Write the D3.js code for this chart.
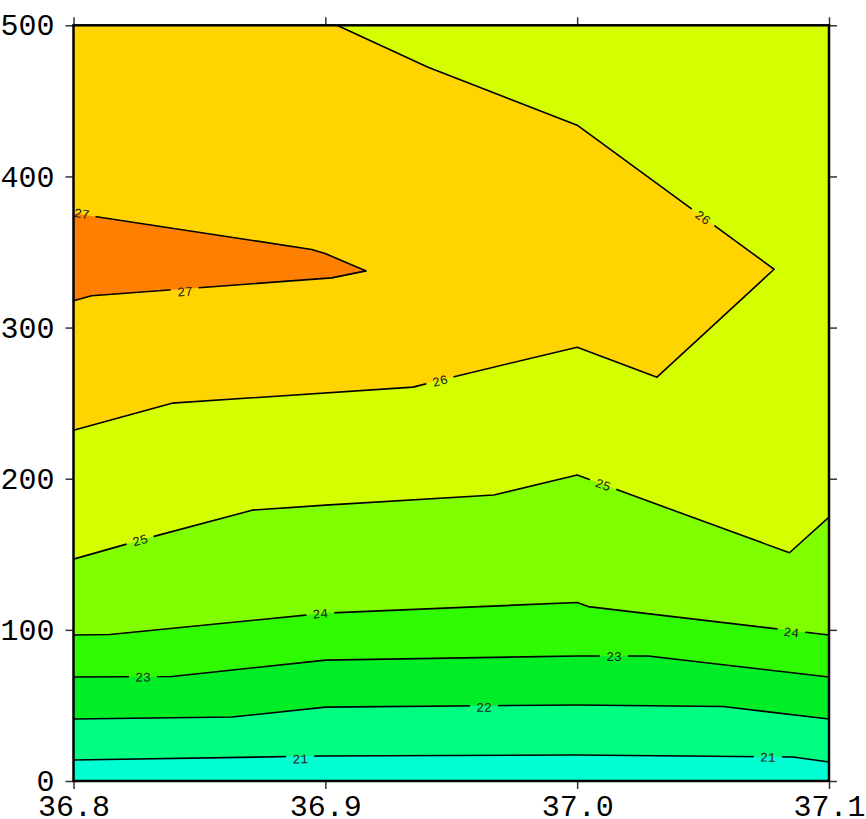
<!DOCTYPE html>
<html><head><meta charset="utf-8">
<script src="https://cdn.jsdelivr.net/npm/d3@7/dist/d3.min.js"></script>
<style>body{margin:0;background:#fff}svg{display:block}</style>
</head><body>
<svg id="chart" width="866" height="819"></svg>
<script>
// ---- data (longitude, depth-value) ----
const xTicks = [36.8, 36.9, 37.0, 37.1];
const yTicks = [0, 100, 200, 300, 400, 500];
const levels = [21, 22, 23, 24, 25, 26, 27];
const bandColors = ["#00FFD2", "#00FF80", "#00EE26", "#30FA00", "#80FF00", "#D4FF00", "#FFD400", "#FF8000"];

const line21 = [[36.8, 13.9], [36.899, 16.5], [37.0, 17.2], [37.0857, 15.9], [37.1, 12.6]];
const line22 = [[36.8, 41.0], [36.8629, 42.3], [36.9001, 48.9], [37.0, 50.3], [37.058, 49.3], [37.1, 41.0]];
const line23 = [[36.8, 68.8], [36.8391, 69.1], [36.9001, 80.0], [37.0, 82.7], [37.0282, 82.7], [37.1, 68.8]];
const line24 = [[36.8, 96.6], [36.8145, 96.9], [36.9001, 111.1], [37.0, 118.1], [37.0044, 115.4], [37.1, 96.6]];
const line25 = [[36.8, 146.8], [36.8316, 161.7], [36.8709, 179.2], [36.9001, 182.5], [36.9669, 189.2], [37.0, 202.4], [37.0843, 151.0], [37.1, 174.6]];
const line26 = [[36.8, 232.1], [36.8391, 250.0], [36.9348, 260.6], [36.9503, 267.2], [37.0, 287.0], [37.0317, 267.2], [37.0782, 338.6], [37.0, 433.9], [36.9408, 472.2], [36.9046, 500]];
const line27 = [[36.8, 375.7], [36.8946, 351.7], [36.8999, 349.0], [36.9162, 337.5], [36.9025, 332.9], [36.8072, 321.1], [36.8, 317.7]];
const contourLines = [line21, line22, line23, line24, line25, line26, line27];

// label placements: [level index, x, y]
const labels = [
  [0, 36.8900, 14.8], [0, 37.0757, 15.9],
  [1, 36.9630, 48.9],
  [2, 36.8276, 69.0], [2, 37.0146, 82.7],
  [3, 36.8980, 111.0], [3, 37.0850, 98.5],
  [4, 36.8264, 159.5], [4, 37.0103, 196.2],
  [5, 36.9455, 265.0], [5, 37.0500, 373.0],
  [6, 36.8033, 375.6], [6, 36.8442, 324.0]
];

// ---- layout ----
const L = 73.5, R = 829, T = 25.3, B = 781;
const x = d3.scaleLinear().domain([36.8, 37.1]).range([L, R]);
const y = d3.scaleLinear().domain([0, 500]).range([B, T]);
const svg = d3.select("#chart");
const line = d3.line().x(d => x(d[0])).y(d => y(d[1]));

const [x0, x1] = x.domain(), [y0, y1] = y.domain();
// background band (< 21)
svg.append("rect").attr("x", L).attr("y", T).attr("width", R - L).attr("height", B - T).attr("fill", bandColors[0]);
// region above each level
const regions = [
  line21.concat([[x1, y1], [x0, y1]]),
  line22.concat([[x1, y1], [x0, y1]]),
  line23.concat([[x1, y1], [x0, y1]]),
  line24.concat([[x1, y1], [x0, y1]]),
  line25.concat([[x1, y1], [x0, y1]]),
  line26.concat([[x0, y1]]),
  line27
];
svg.append("g").selectAll("path").data(regions).join("path")
  .attr("d", d => line(d) + "Z").attr("fill", (d, i) => bandColors[i + 1]).attr("stroke", "none");

// label angles from nearest segment
function nearestAngle(pts, px, py) {
  let best = Infinity, ang = 0;
  for (let i = 0; i < pts.length - 1; i++) {
    const ax = x(pts[i][0]), ay = y(pts[i][1]), bx = x(pts[i + 1][0]), by = y(pts[i + 1][1]);
    const dx = bx - ax, dy = by - ay, len2 = dx * dx + dy * dy;
    let t = ((px - ax) * dx + (py - ay) * dy) / len2; t = Math.max(0, Math.min(1, t));
    const qx = ax + t * dx, qy = ay + t * dy, dist = Math.hypot(px - qx, py - qy);
    if (dist < best) { best = dist; ang = Math.atan2(dy, dx) * 180 / Math.PI; }
  }
  if (ang > 90) ang -= 180; if (ang < -90) ang += 180;
  return ang;
}
const labelData = labels.map(([li, lx, ly]) => {
  const px = x(lx), py = y(ly);
  return { text: String(levels[li]), px, py, ang: nearestAngle(contourLines[li], px, py) };
});

// mask for line gaps
const defs = svg.append("defs");
const mask = defs.append("mask").attr("id", "gapmask").attr("maskUnits", "userSpaceOnUse")
  .attr("x", 0).attr("y", 0).attr("width", 866).attr("height", 819);
mask.append("rect").attr("x", 0).attr("y", 0).attr("width", 866).attr("height", 819).attr("fill", "#fff");
mask.selectAll("rect.g").data(labelData).join("rect").attr("class", "g")
  .attr("x", -14).attr("y", -7).attr("width", 28).attr("height", 14).attr("fill", "#000")
  .attr("transform", d => `translate(${d.px},${d.py}) rotate(${d.ang})`);

svg.append("g").attr("mask", "url(#gapmask)").selectAll("path").data(contourLines).join("path")
  .attr("d", line).attr("fill", "none").attr("stroke", "#000").attr("stroke-width", 1.6).attr("stroke-linejoin", "round");

svg.append("g").selectAll("text").data(labelData).join("text")
  .attr("transform", d => `translate(${d.px},${d.py}) rotate(${d.ang})`)
  .attr("text-anchor", "middle").attr("dy", "0.36em")
  .style("font-family", "'Liberation Mono', 'DejaVu Sans Mono', monospace").style("font-size", "13px")
  .attr("fill", "#222").text(d => d.text);

// ---- axes ----
const tickStyle = g => {
  g.select(".domain").remove();
  g.selectAll(".tick line").attr("stroke", "#333").attr("stroke-width", 1.5);
  g.selectAll(".tick text").style("font-family", "'Liberation Mono', 'Courier New', monospace").style("font-size", "30px").attr("fill", "#000");
};
svg.append("g").attr("transform", `translate(0,${B})`)
  .call(d3.axisBottom(x).tickValues(xTicks).tickFormat(d3.format(".1f")).tickSize(8).tickPadding(6)).call(tickStyle);
svg.append("g").attr("transform", `translate(${L},0)`)
  .call(d3.axisLeft(y).tickValues(yTicks).tickFormat(d3.format("d")).tickSize(8).tickPadding(11)).call(tickStyle);
svg.append("g").attr("transform", `translate(0,${T})`)
  .call(d3.axisTop(x).tickValues(xTicks).tickFormat("").tickSize(8)).call(tickStyle);
svg.append("g").attr("transform", `translate(${R},0)`)
  .call(d3.axisRight(y).tickValues(yTicks).tickFormat("").tickSize(8)).call(tickStyle);

svg.append("rect").attr("x", L).attr("y", T).attr("width", R - L).attr("height", B - T)
  .attr("fill", "none").attr("stroke", "#000").attr("stroke-width", 2.5);
</script>
</body></html>
